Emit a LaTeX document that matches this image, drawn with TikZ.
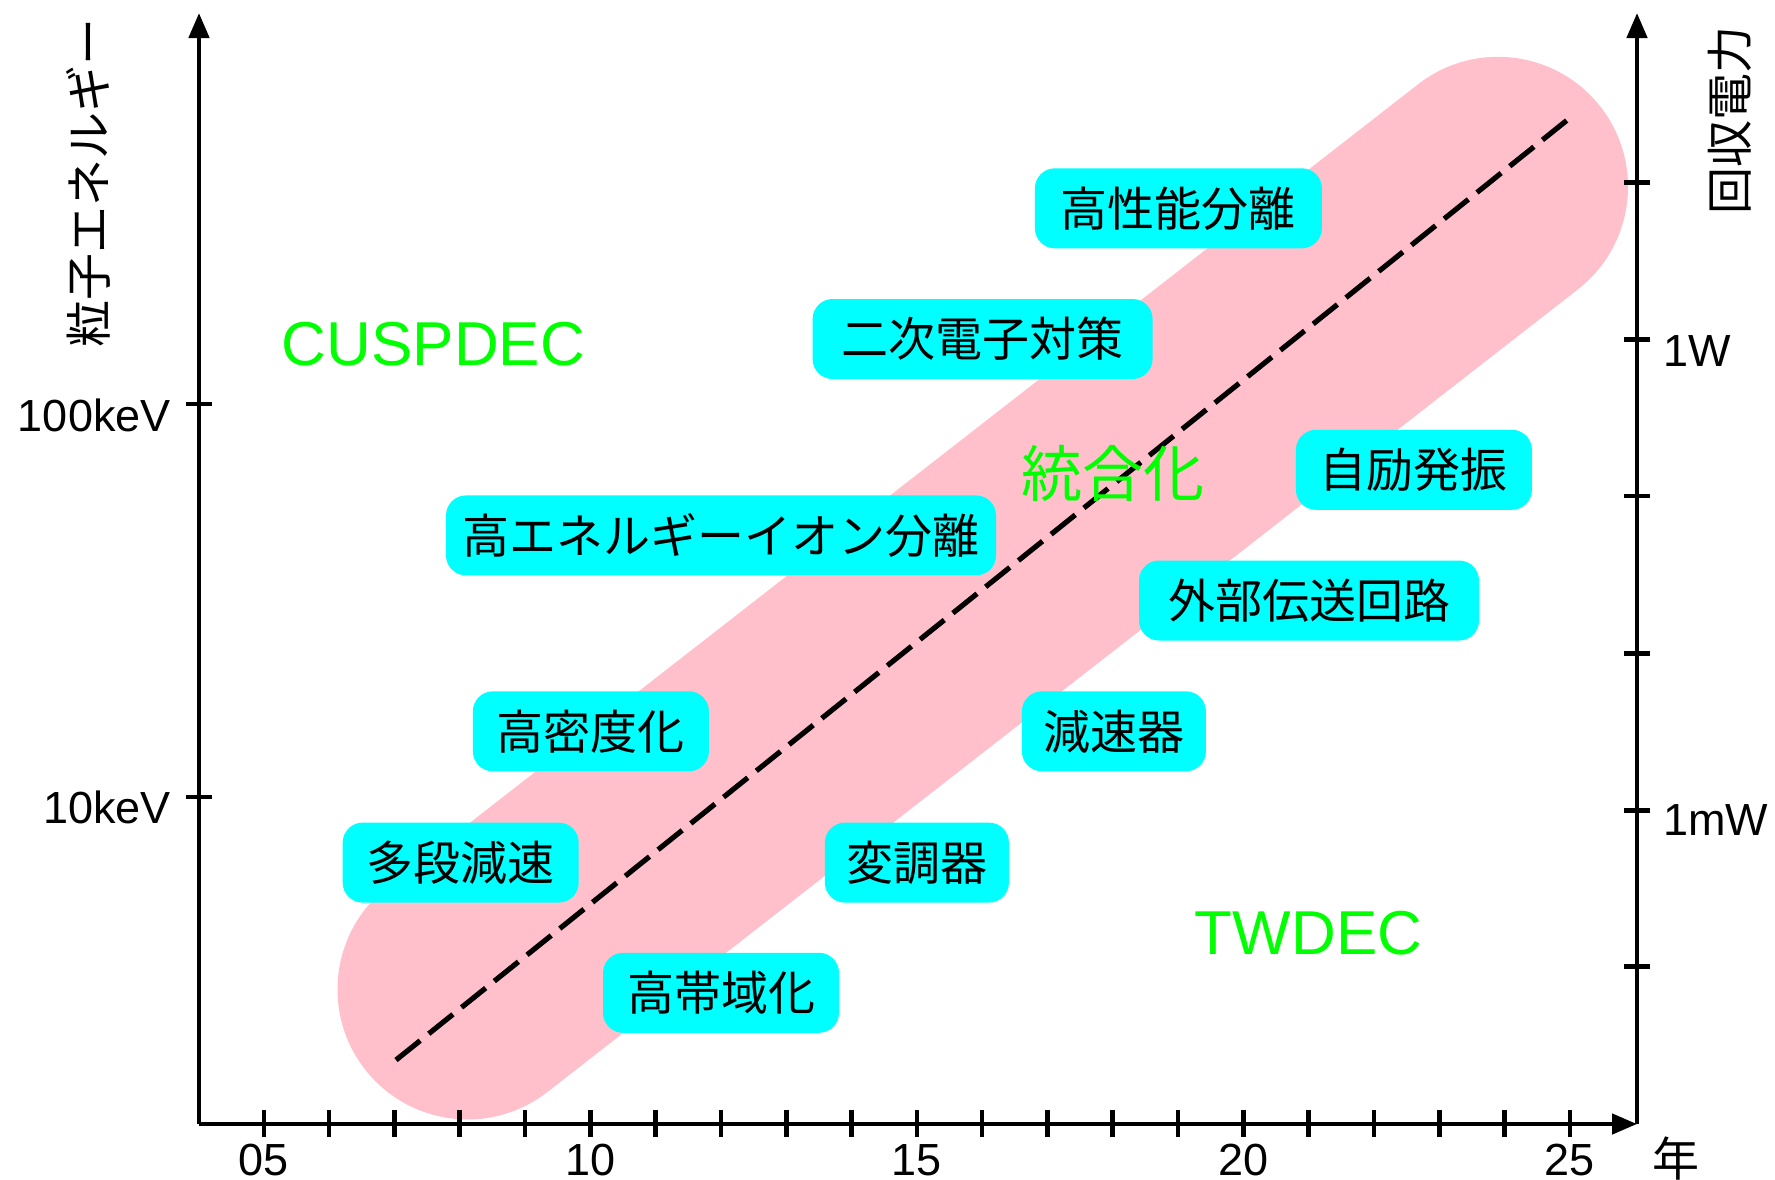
\documentclass[tikz,border=0pt]{standalone}
\usepackage{fontspec}
\setmainfont{Liberation Sans}
\newfontfamily\jp{Noto Sans CJK JP}
\usetikzlibrary{arrows.meta}
\definecolor{pinkc}{RGB}{255,192,203}
\definecolor{boxcyan}{RGB}{0,255,255}
\definecolor{lgreen}{RGB}{0,255,0}
\begin{document}
\begin{tikzpicture}[x=0.5pt,y=-0.5pt,
  ax/.style={line width=2.3pt},
  tip/.style={-{Triangle[length=12.5pt,width=10pt]}},
  box/.style={fill=boxcyan, rounded corners=10pt, minimum height=40pt, inner sep=0pt, font=\jp\fontsize{23.5}{28}\selectfont},
  grn/.style={text=lgreen, inner sep=0pt},
  lbl/.style={inner sep=0pt, font=\fontsize{22.5}{27}\selectfont},
  jlbl/.style={inner sep=0pt, font=\jp\fontsize{23.5}{28}\selectfont}]
\useasboundingbox (0,0) rectangle (1775,1179);
% band
\coordinate (b1) at (467.5,989.4);
\coordinate (b2) at (1498,186.8);
\draw[line width=130pt, line cap=round, pinkc] (b1) -- (b2);
% dashed trend
\coordinate (d1) at (396,1060);
\coordinate (d2) at (1571,117);
\draw[line width=2.6pt, dash pattern=on 15.5pt off 5.5pt] (d1) -- (d2);
% axes
\coordinate (O) at (199,1124);
\coordinate (YT) at (199,13);
\coordinate (XR) at (1637,1124);
\coordinate (RT) at (1637,13);
\draw[ax,tip] (O) -- (YT);
\draw[ax,tip] (O) -- (XR);
\draw[ax,tip] (XR) -- (RT);
% x ticks
\foreach \n in {5,...,25} \draw[ax] ({263.8+(\n-5)*65.3},1110) -- ++(0,27);
\node[lbl] (x05) at (263.8,1160) {05};
\node[lbl] (x10) at (590.3,1160) {10};
\node[lbl] (x15) at (916.8,1160) {15};
\node[lbl] (x20) at (1243.3,1160) {20};
\node[lbl] (x25) at (1569.8,1160) {25};
\node[jlbl] (nen) at (1676,1159) {年};
% left ticks
\draw[ax] (186,404) -- (212,404);
\draw[ax] (186,797) -- (212,797);
\node[lbl,anchor=east] (e100) at (171,415) {100keV};
\node[lbl,anchor=east] (e10) at (171,807) {10keV};
\node[jlbl,rotate=90] (ylab) at (88,183) {粒子エネルギー};
% right ticks
\foreach \y in {182.3,339.6,495.8,653.2,810.5,966.7} \draw[ax] (1624,\y) -- (1650,\y);
\node[lbl,anchor=west] (p1w) at (1663,351) {1W};
\node[lbl,anchor=west] (p1mw) at (1663,820) {1mW};
\node[jlbl,rotate=90] (ylab2) at (1730,120) {回収電力};
% boxes
\node[box,minimum width=143.5pt] (k1) at (1178.4,208.3) {高性能分離};
\node[box,minimum width=170pt] (k2) at (982.6,339) {二次電子対策};
\node[box,minimum width=118pt] (k3) at (1413.9,469.8) {自励発振};
\node[box,minimum width=275pt] (k4) at (721,535.4) {高エネルギーイオン分離};
\node[box,minimum width=170pt] (k5) at (1309,600.5) {外部伝送回路};
\node[box,minimum width=118pt] (k6) at (590.9,731.3) {高密度化};
\node[box,minimum width=92pt] (k7) at (1113.9,731.3) {減速器};
\node[box,minimum width=118pt] (k8) at (460.7,862.6) {多段減速};
\node[box,minimum width=92pt] (k9) at (916.9,862.6) {変調器};
\node[box,minimum width=118pt] (k10) at (721,992.8) {高帯域化};
% green labels
\node[grn,font=\fontsize{31}{36}\selectfont] (cusp) at (433.5,344) {CUSPDEC};
\node[grn,font=\fontsize{31}{36}\selectfont] (tw) at (1308.6,933) {TWDEC};
\node[grn,font=\jp\fontsize{30.5}{36}\selectfont] (toug) at (1112.8,473) {統合化};
\end{tikzpicture}
\end{document}
